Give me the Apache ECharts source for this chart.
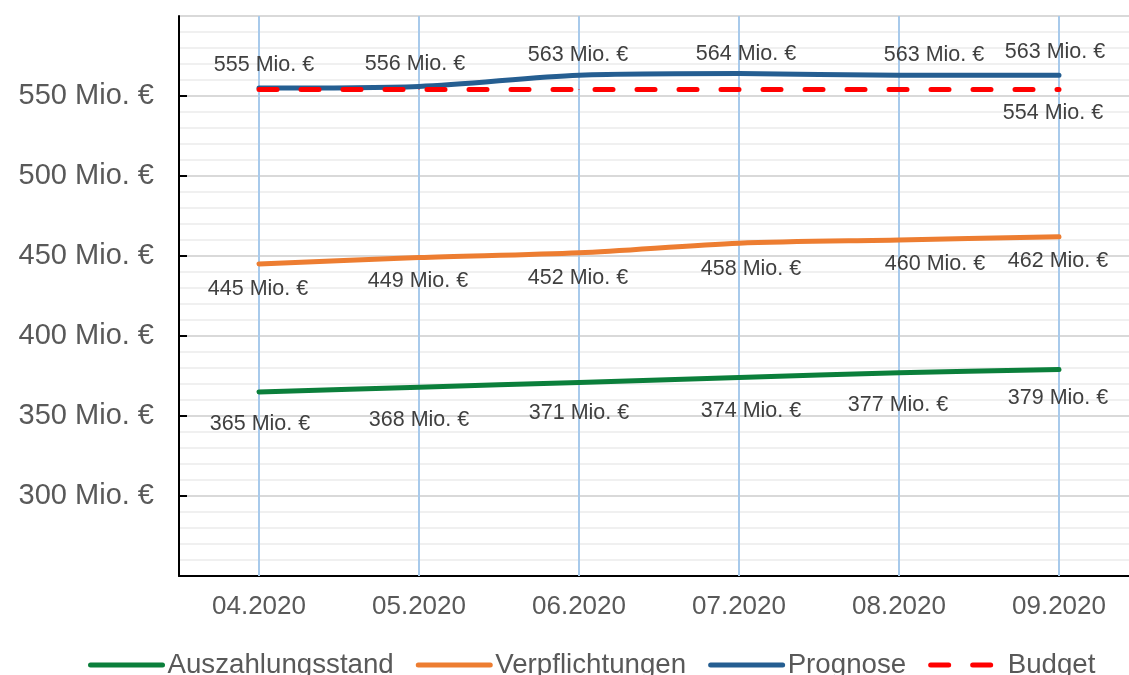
<!DOCTYPE html>
<html>
<head>
<meta charset="utf-8">
<script src="https://cdn.jsdelivr.net/npm/echarts@6/dist/echarts.min.js"></script>
<style>
  html, body { margin: 0; padding: 0; background: #fff; overflow: hidden; width: 1129px; height: 675px; }
  #chart { width: 1145px; height: 675px; }
</style>
</head>
<body>
<div id="chart"></div>
<script>
// ---- data ----
const categories = ['04.2020', '05.2020', '06.2020', '07.2020', '08.2020', '09.2020'];
const auszahlungsstand = [365, 368, 371, 374, 377, 379];
const verpflichtungen = [445, 449, 452, 458, 460, 462];
const prognose = [555, 556, 563, 564, 563, 563];
const budget = [554, 554, 554, 554, 554, 554];
const seriesNames = ['Auszahlungsstand', 'Verpflichtungen', 'Prognose', 'Budget'];
const yMin = 250, yMax = 600, yInterval = 50;

// ---- label placement (pixel offsets from point to label centre) ----
const offAus = [[1, 32], [0, 33], [0, 31], [12, 33], [-1, 32], [-1, 28]];
const offVer = [[-1, 25], [-1, 23], [-1, 25], [12, 26], [36, 24], [-1, 24]];
const offPro = [[5, -23], [-4, -22], [-1, -20], [7, -20], [35, -20], [-4, -23]];
const offBud = [null, null, null, null, null, [-6, 23]];

const labelFont = { color: '#404040', fontSize: 21.5, fontFamily: 'Liberation Sans, Arial, sans-serif' };

function buildData(values, offsets) {
  return values.map((v, i) => {
    const off = offsets[i];
    if (!off) return { value: v, label: { show: false } };
    return {
      value: v,
      label: Object.assign({
        show: true,
        position: 'inside',
        offset: off,
        formatter: p => p.value + ' Mio. €'
      }, labelFont)
    };
  });
}

const colors = {
  Auszahlungsstand: '#0B7F3B',
  Verpflichtungen: '#ED7D31',
  Prognose: '#255E91',
  Budget: '#FF0000'
};

function lineSeries(name, values, offsets, extra) {
  return Object.assign({
    name: name,
    type: 'line',
    data: buildData(values, offsets),
    smooth: 0.3,
    symbol: 'circle',
    symbolSize: 1,
    showSymbol: true,
    z: 3,
    itemStyle: { color: colors[name] },
    lineStyle: { color: colors[name], width: 5, cap: 'round', join: 'round' },
    emphasis: { disabled: true },
    animation: false
  }, extra || {});
}

const chart = echarts.init(document.getElementById('chart'), null, { renderer: 'canvas' });

const option = {
  backgroundColor: '#ffffff',
  animation: false,
  grid: { left: 179, top: 16, width: 960, height: 560, containLabel: false },
  legend: {
    data: seriesNames,
    left: 88,
    top: 651,
    padding: 0,
    itemWidth: 72,
    itemHeight: 12,
    itemGap: 22,
    itemStyle: { opacity: 0 },
    lineStyle: { width: 5, cap: 'round' },
    textStyle: { color: '#595959', fontSize: 27.7, fontFamily: 'Liberation Sans, Arial, sans-serif' },
    selectedMode: false
  },
  xAxis: {
    type: 'category',
    data: categories,
    boundaryGap: true,
    axisLine: { show: true, lineStyle: { color: '#000', width: 2 } },
    axisTick: { show: true, inside: true, alignWithLabel: true, length: 5, lineStyle: { color: '#1F3A5A', width: 2 } },
    axisLabel: { color: '#595959', fontSize: 26, margin: 18, fontFamily: 'Liberation Sans, Arial, sans-serif' },
    splitLine: { show: false }
  },
  yAxis: {
    type: 'value',
    min: yMin,
    max: yMax,
    interval: yInterval,
    axisLine: { show: true, lineStyle: { color: '#000', width: 2 } },
    axisTick: { show: true, inside: true, length: 8, lineStyle: { color: '#000', width: 2 } },
    axisLabel: {
      color: '#595959', fontSize: 29, margin: 25, fontFamily: 'Liberation Sans, Arial, sans-serif',
      showMinLabel: false, showMaxLabel: false,
      formatter: v => v + ' Mio. €'
    },
    splitLine: { show: true, lineStyle: { color: '#D9D9D9', width: 2 } },
    minorTick: { show: false, splitNumber: 5 },
    minorSplitLine: { show: true, lineStyle: { color: '#F0F0F0', width: 2 } }
  },
  series: [
    lineSeries('Auszahlungsstand', auszahlungsstand, offAus, {
      markLine: {
        silent: true,
        z: 1,
        symbol: ['none', 'none'],
        label: { show: false },
        lineStyle: { color: '#A8CAEB', width: 2, type: 'solid' },
        emphasis: { disabled: true },
        animation: false,
        data: categories.map(c => ({ xAxis: c }))
      }
    }),
    lineSeries('Verpflichtungen', verpflichtungen, offVer),
    lineSeries('Prognose', prognose, offPro),
    lineSeries('Budget', budget, offBud, {
      smooth: false,
      z: 4,
      lineStyle: { color: colors.Budget, width: 5, type: [18, 24], cap: 'round', join: 'round' }
    })
  ]
};

chart.setOption(option);
</script>
</body>
</html>
